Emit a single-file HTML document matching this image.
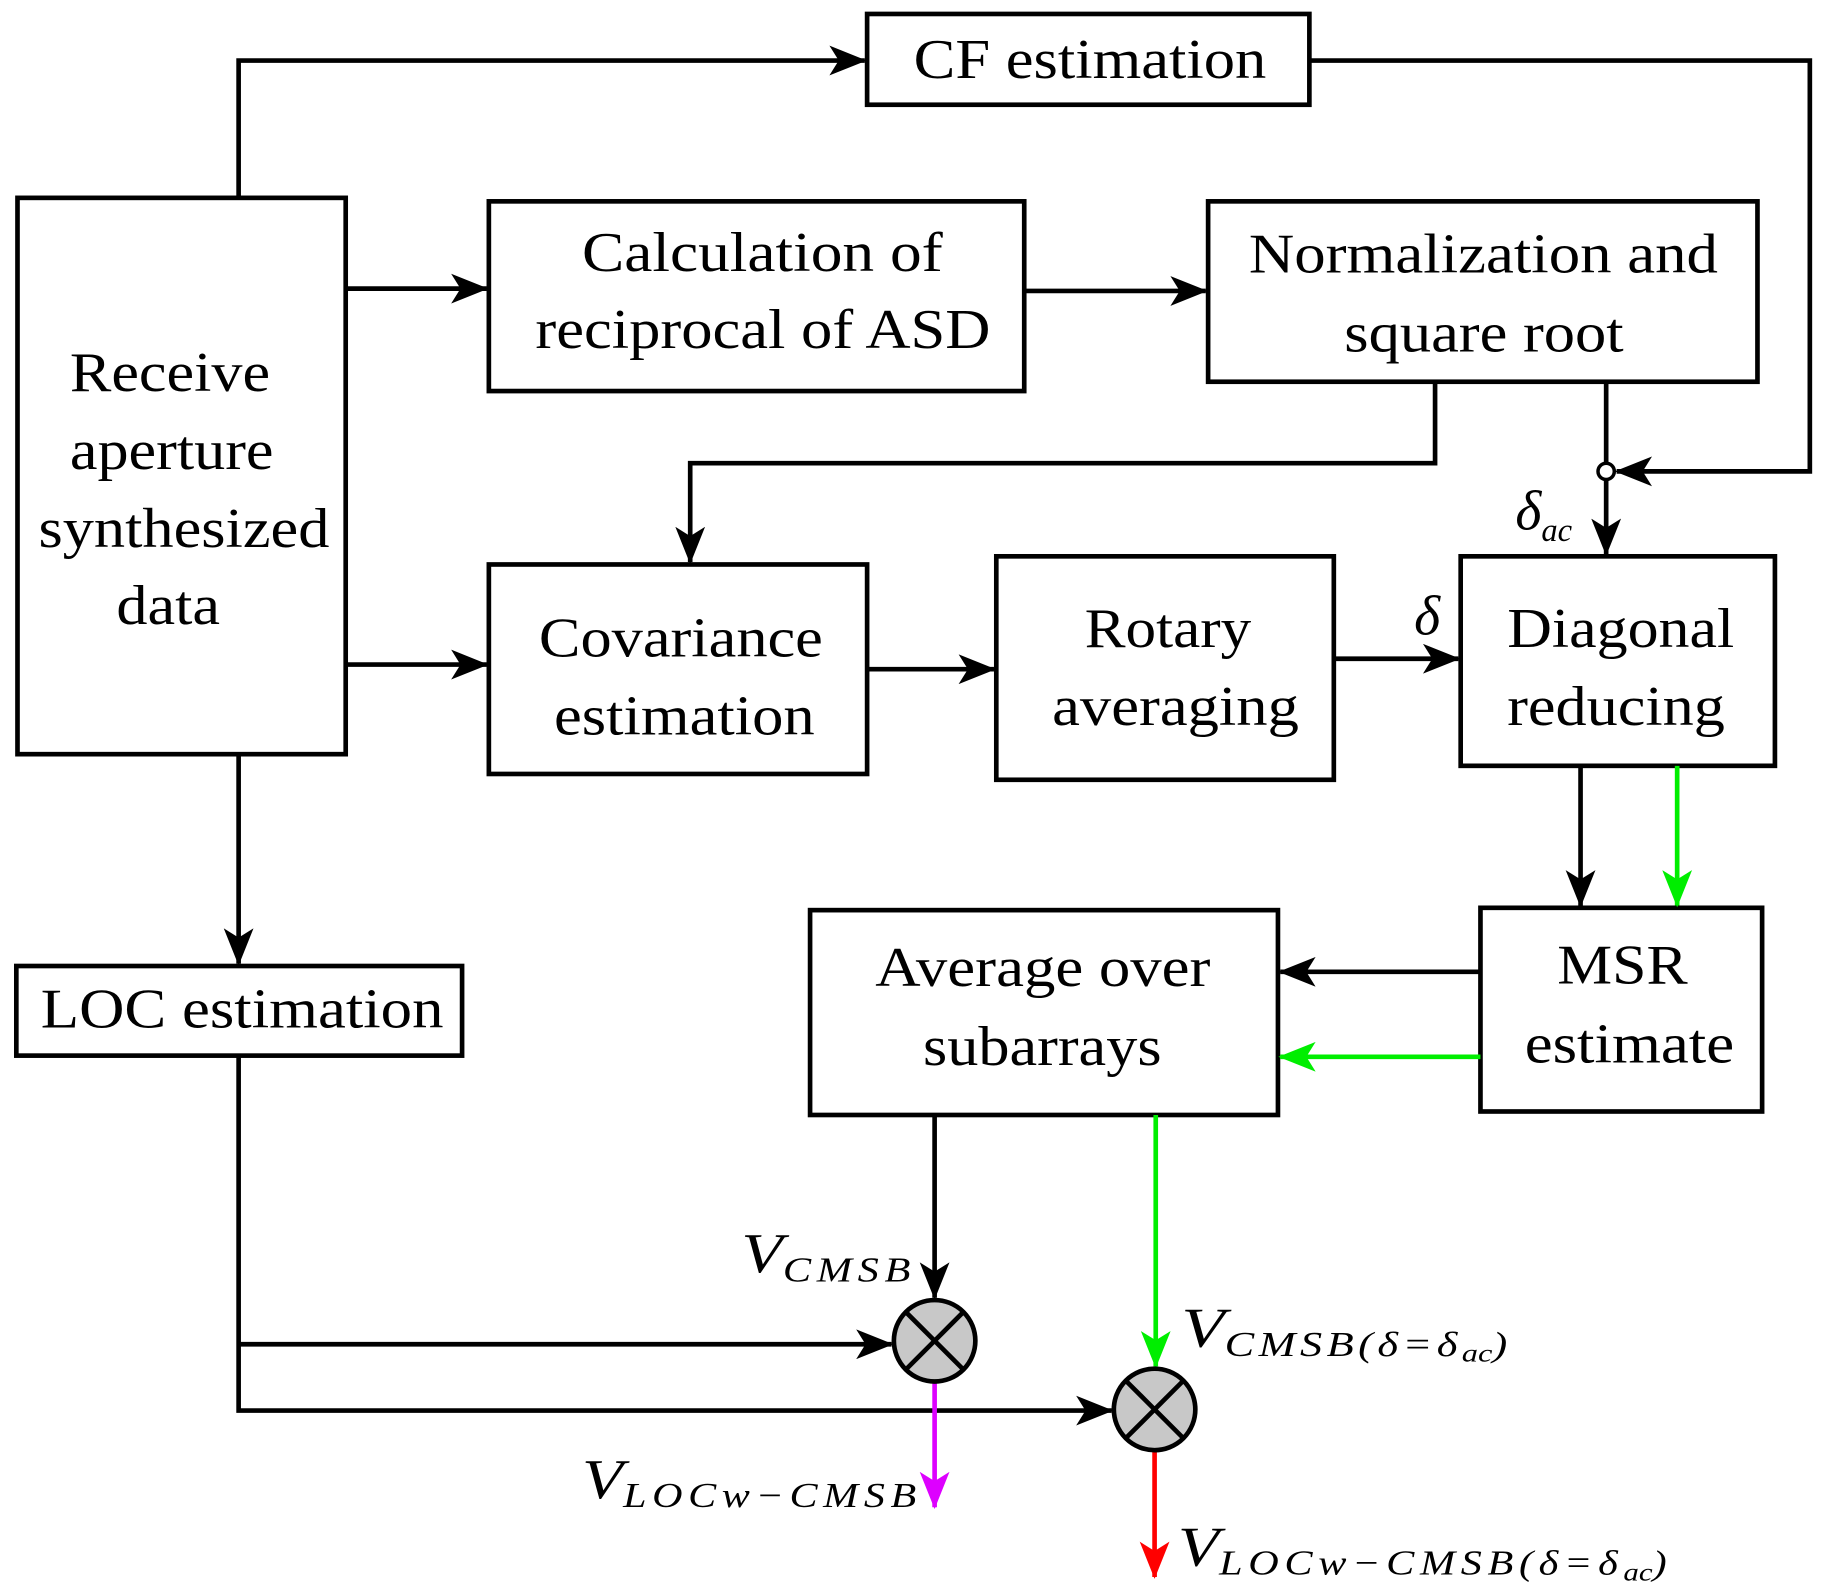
<!DOCTYPE html>
<html><head><meta charset="utf-8"><style>
html,body{margin:0;padding:0;background:#fff;}
svg{display:block;}
text{font-family:"Liberation Serif",serif;font-size:48px;fill:#000;}
.i{font-style:italic;}
</style></head><body>
<svg width="1825" height="1591" viewBox="0 0 1568 1367" xmlns="http://www.w3.org/2000/svg">
<defs>
<marker id="a" viewBox="0 0 20 16" refX="19" refY="8" markerWidth="8" markerHeight="6.4" markerUnits="strokeWidth" orient="auto"><path d="M0,0 L20,8 L0,16 L5,8 Z" fill="#000"/></marker>
<marker id="g" viewBox="0 0 20 16" refX="19" refY="8" markerWidth="8" markerHeight="6.4" markerUnits="strokeWidth" orient="auto"><path d="M0,0 L20,8 L0,16 L5,8 Z" fill="#00ee00"/></marker>
<marker id="m" viewBox="0 0 20 16" refX="19" refY="8" markerWidth="8" markerHeight="6.4" markerUnits="strokeWidth" orient="auto"><path d="M0,0 L20,8 L0,16 L5,8 Z" fill="#dd00ff"/></marker>
<marker id="r" viewBox="0 0 20 16" refX="19" refY="8" markerWidth="8" markerHeight="6.4" markerUnits="strokeWidth" orient="auto"><path d="M0,0 L20,8 L0,16 L5,8 Z" fill="#ff0000"/></marker>
</defs>
<g fill="none" stroke="#000" stroke-width="4">
<rect x="745" y="12" width="380" height="78"/>
<rect x="15" y="170" width="282" height="478"/>
<rect x="420" y="173" width="460" height="163"/>
<rect x="1038" y="173" width="472" height="155"/>
<rect x="420" y="485" width="325" height="180"/>
<rect x="856" y="478" width="290" height="192"/>
<rect x="1255" y="478" width="270" height="180"/>
<rect x="1272" y="780" width="242" height="175"/>
<rect x="696" y="782" width="402" height="176"/>
<rect x="14" y="830" width="383" height="77"/>
<polyline points="205,170 205,52 743,52" marker-end="url(#a)"/>
<polyline points="1125,52 1555,52 1555,405 1389,405" marker-end="url(#a)"/>
<line x1="1380" y1="328" x2="1380" y2="476" marker-end="url(#a)"/>
<polyline points="1233,328 1233,398 593,398 593,483" marker-end="url(#a)"/>
<line x1="297" y1="248" x2="418" y2="248" marker-end="url(#a)"/>
<line x1="880" y1="250" x2="1036" y2="250" marker-end="url(#a)"/>
<line x1="297" y1="571" x2="418" y2="571" marker-end="url(#a)"/>
<line x1="745" y1="575" x2="854" y2="575" marker-end="url(#a)"/>
<line x1="1146" y1="566" x2="1253" y2="566" marker-end="url(#a)"/>
<line x1="1358" y1="658" x2="1358" y2="778" marker-end="url(#a)"/>
<line x1="1272" y1="835" x2="1100" y2="835" marker-end="url(#a)"/>
<line x1="205" y1="648" x2="205" y2="828" marker-end="url(#a)"/>
<polyline points="205,907 205,1212 955,1212" marker-end="url(#a)"/>
<line x1="205" y1="1155" x2="766" y2="1155" marker-end="url(#a)"/>
<line x1="803" y1="958" x2="803" y2="1115" marker-end="url(#a)"/>
</g>
<g fill="none" stroke-width="4">
<line x1="1441" y1="658" x2="1441" y2="778" stroke="#00ee00" marker-end="url(#g)"/>
<line x1="1272" y1="908" x2="1100" y2="908" stroke="#00ee00" marker-end="url(#g)"/>
<line x1="993" y1="958" x2="993" y2="1174" stroke="#00ee00" marker-end="url(#g)"/>
<line x1="803" y1="1187" x2="803" y2="1295" stroke="#dd00ff" marker-end="url(#m)"/>
<line x1="992" y1="1246" x2="992" y2="1355" stroke="#ff0000" marker-end="url(#r)"/>
</g>
<circle cx="1380" cy="405" r="7" fill="#fff" stroke="#000" stroke-width="3"/>
<g stroke="#000" stroke-width="4">
<circle cx="803" cy="1152" r="35" fill="#c8c8c8"/>
<line x1="778" y1="1127" x2="828" y2="1177"/><line x1="828" y1="1127" x2="778" y2="1177"/>
<circle cx="992" cy="1211" r="35" fill="#c8c8c8"/>
<line x1="967" y1="1186" x2="1017" y2="1236"/><line x1="1017" y1="1186" x2="967" y2="1236"/>
</g>
<g lengthAdjust="spacingAndGlyphs">
<text x="785" y="67" textLength="303" lengthAdjust="spacingAndGlyphs">CF estimation</text>
<text x="60" y="336" textLength="172" lengthAdjust="spacingAndGlyphs">Receive</text>
<text x="60" y="403" textLength="175" lengthAdjust="spacingAndGlyphs">aperture</text>
<text x="33" y="470" textLength="250" lengthAdjust="spacingAndGlyphs">synthesized</text>
<text x="100" y="536" textLength="89" lengthAdjust="spacingAndGlyphs">data</text>
<text x="500" y="233" textLength="310" lengthAdjust="spacingAndGlyphs">Calculation of</text>
<text x="460" y="299" textLength="391" lengthAdjust="spacingAndGlyphs">reciprocal of ASD</text>
<text x="1073" y="234" textLength="403" lengthAdjust="spacingAndGlyphs">Normalization and</text>
<text x="1155" y="302" textLength="240" lengthAdjust="spacingAndGlyphs">square root</text>
<text x="463" y="564" textLength="244" lengthAdjust="spacingAndGlyphs">Covariance</text>
<text x="476" y="631" textLength="224" lengthAdjust="spacingAndGlyphs">estimation</text>
<text x="932" y="556" textLength="143" lengthAdjust="spacingAndGlyphs">Rotary</text>
<text x="904" y="623" textLength="212" lengthAdjust="spacingAndGlyphs">averaging</text>
<text x="1295" y="556" textLength="195" lengthAdjust="spacingAndGlyphs">Diagonal</text>
<text x="1295" y="623" textLength="187" lengthAdjust="spacingAndGlyphs">reducing</text>
<text x="1338" y="845" textLength="112" lengthAdjust="spacingAndGlyphs">MSR</text>
<text x="1310" y="913" textLength="180" lengthAdjust="spacingAndGlyphs">estimate</text>
<text x="752" y="847" textLength="288" lengthAdjust="spacingAndGlyphs">Average over</text>
<text x="793" y="915" textLength="205" lengthAdjust="spacingAndGlyphs">subarrays</text>
<text x="35" y="883" textLength="346" lengthAdjust="spacingAndGlyphs">LOC estimation</text>
</g>
<text class="i" x="1302" y="455" font-size="40">δ<tspan font-size="28" dy="10">ac</tspan></text>
<text class="i" x="1215" y="545" font-size="40">δ</text>
<text class="i" x="637" y="1093" font-size="44" textLength="150" lengthAdjust="spacingAndGlyphs">V<tspan font-size="30" dy="8" letter-spacing="4">CMSB</tspan></text>
<text class="i" x="1015" y="1157" font-size="44" textLength="280" lengthAdjust="spacingAndGlyphs">V<tspan font-size="30" dy="8" letter-spacing="3">CMSB(δ=δ</tspan><tspan font-size="22" dy="5">ac</tspan><tspan font-size="30" dy="-5">)</tspan></text>
<text class="i" x="500" y="1287" font-size="44" textLength="292" lengthAdjust="spacingAndGlyphs">V<tspan font-size="30" dy="8" letter-spacing="4">LOCw−CMSB</tspan></text>
<text class="i" x="1012" y="1345" font-size="44" textLength="420" lengthAdjust="spacingAndGlyphs">V<tspan font-size="30" dy="8" letter-spacing="4">LOCw−CMSB(δ=δ</tspan><tspan font-size="22" dy="5">ac</tspan><tspan font-size="30" dy="-5">)</tspan></text>
</svg>
</body></html>
